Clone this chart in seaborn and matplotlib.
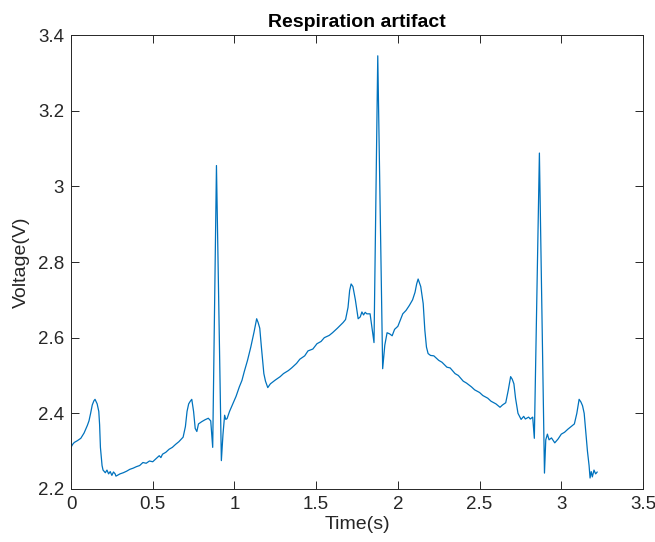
import numpy as np
import pandas as pd
import seaborn as sns
import matplotlib.pyplot as plt
from matplotlib.ticker import FuncFormatter

# -----------------------------
# Data
# -----------------------------
time_s = [
    0.00, 0.01, 0.02, 0.04, 0.06, 0.08, 0.10, 0.11, 0.12, 0.13, 0.14, 0.147,
    0.16, 0.17, 0.175, 0.18, 0.19, 0.196, 0.21, 0.22, 0.23, 0.24, 0.25, 0.26,
    0.27, 0.275, 0.30, 0.32, 0.34, 0.36, 0.38, 0.40, 0.42, 0.44, 0.46, 0.48,
    0.50, 0.52, 0.54, 0.55, 0.56, 0.58, 0.60, 0.62, 0.64, 0.66, 0.686, 0.70,
    0.71, 0.72, 0.73, 0.739, 0.75, 0.76, 0.77, 0.78, 0.80, 0.82, 0.84, 0.855,
    0.867, 0.89, 0.92, 0.93, 0.94, 0.947, 0.955, 0.97, 0.99,
    1.01, 1.03, 1.046, 1.06, 1.08, 1.10, 1.12, 1.136, 1.145, 1.155, 1.165,
    1.18, 1.19, 1.204, 1.22, 1.25, 1.28, 1.30, 1.33, 1.35, 1.38, 1.40, 1.43,
    1.45, 1.48, 1.505, 1.53, 1.55, 1.58, 1.60, 1.63, 1.665, 1.68, 1.695, 1.705,
    1.714, 1.725, 1.74, 1.757, 1.77, 1.78, 1.79, 1.80, 1.81, 1.83, 1.854,
    1.877, 1.907, 1.92, 1.934, 1.95, 1.965, 1.98, 2.00, 2.03,
    2.05, 2.07, 2.09, 2.105, 2.115, 2.124, 2.14, 2.155, 2.165, 2.175, 2.185,
    2.20, 2.22, 2.25, 2.27, 2.30, 2.32, 2.35, 2.37, 2.40, 2.42, 2.45, 2.47,
    2.50, 2.52, 2.55, 2.57, 2.60, 2.625, 2.64, 2.66, 2.675, 2.69, 2.70, 2.71,
    2.72, 2.735, 2.754, 2.77, 2.78, 2.80, 2.81, 2.825, 2.835, 2.866,
    2.897, 2.905, 2.915, 2.925, 2.94, 2.96, 2.98, 3.00, 3.02, 3.04,
    3.06, 3.08, 3.095, 3.109, 3.12, 3.13, 3.14, 3.15, 3.16, 3.17, 3.176,
    3.183, 3.19, 3.20, 3.21, 3.22,
]

voltage_v = [
    2.310, 2.318, 2.323, 2.328, 2.334, 2.348, 2.368, 2.380, 2.400, 2.422, 2.433, 2.437,
    2.425, 2.405, 2.370, 2.310, 2.262, 2.250, 2.243, 2.250, 2.240, 2.246, 2.236, 2.245,
    2.240, 2.234, 2.240, 2.243, 2.247, 2.252, 2.255, 2.259, 2.262, 2.270, 2.268, 2.274,
    2.272, 2.280, 2.288, 2.283, 2.292, 2.297, 2.305, 2.310, 2.318, 2.325, 2.337, 2.365,
    2.405, 2.425, 2.432, 2.437, 2.405, 2.360, 2.352, 2.372, 2.378, 2.383, 2.387, 2.380,
    2.310, 3.055, 2.275, 2.345, 2.395, 2.384, 2.386, 2.405, 2.425,
    2.445, 2.470, 2.487, 2.510, 2.540, 2.575, 2.615, 2.650, 2.640, 2.625, 2.575,
    2.505, 2.485, 2.468, 2.478, 2.488, 2.497, 2.505, 2.513, 2.520, 2.532, 2.543, 2.552,
    2.565, 2.570, 2.584, 2.590, 2.600, 2.606, 2.613, 2.625, 2.640, 2.648, 2.680, 2.725,
    2.742, 2.735, 2.700, 2.650, 2.655, 2.668, 2.660, 2.667, 2.663, 2.663, 2.587,
    3.345, 2.518, 2.580, 2.613, 2.610, 2.605, 2.622, 2.630, 2.663,
    2.672, 2.685, 2.700, 2.720, 2.742, 2.755, 2.735, 2.690, 2.620, 2.575, 2.558,
    2.553, 2.552, 2.540, 2.535, 2.522, 2.520, 2.505, 2.500, 2.485, 2.480, 2.470, 2.462,
    2.455, 2.447, 2.440, 2.432, 2.425, 2.416, 2.422, 2.428, 2.460, 2.497, 2.490, 2.478,
    2.440, 2.400, 2.384, 2.392, 2.385, 2.390, 2.385, 2.390, 2.334, 3.088,
    2.242, 2.330, 2.345, 2.330, 2.335, 2.322, 2.332, 2.345, 2.350, 2.358,
    2.365, 2.372, 2.400, 2.437, 2.430, 2.420, 2.400, 2.350, 2.300, 2.262, 2.229,
    2.246, 2.232, 2.250, 2.240, 2.245,
]

df = pd.DataFrame({"time": time_s, "voltage": voltage_v})

# -----------------------------
# Style
# -----------------------------
sns.set_style("ticks")
plt.rcParams["font.family"] = ["Liberation Sans", "DejaVu Sans"]
plt.rcParams["xtick.direction"] = "in"
plt.rcParams["ytick.direction"] = "in"

AXIS_COLOR = "#262626"

fig = plt.figure(figsize=(6.55, 5.42), dpi=100)
ax = fig.add_axes([0.1084, 0.0978, 0.8733, 0.8376])

sns.lineplot(
    data=df, x="time", y="voltage", ax=ax,
    sort=False, estimator=None, color="#0072BD", linewidth=0.9,
)

ax.set_xlim(0, 3.5)
ax.set_ylim(2.2, 3.4)
ax.set_xticks(np.arange(0, 3.51, 0.5))
ax.set_yticks(np.arange(2.2, 3.41, 0.2))
ax.xaxis.set_major_formatter(FuncFormatter(lambda v, p: f"{v:g}"))
ax.yaxis.set_major_formatter(FuncFormatter(lambda v, p: f"{round(v, 1):g}"))

ax.tick_params(axis="both", which="both", top=True, right=True, length=6,
               width=0.7, colors=AXIS_COLOR, labelsize=13.5, pad=5)
for side in ax.spines.values():
    side.set_visible(True)
    side.set_color(AXIS_COLOR)
    side.set_linewidth(0.7)

ax.set_xlabel("Time(s)", fontsize=14, color=AXIS_COLOR, labelpad=2)
ax.set_ylabel("Voltage(V)", fontsize=14, color=AXIS_COLOR, labelpad=6)
ax.set_title("Respiration artifact", fontsize=14, fontweight="bold", color="black", pad=6)

fig.savefig("out.png", dpi=100, facecolor="white")
